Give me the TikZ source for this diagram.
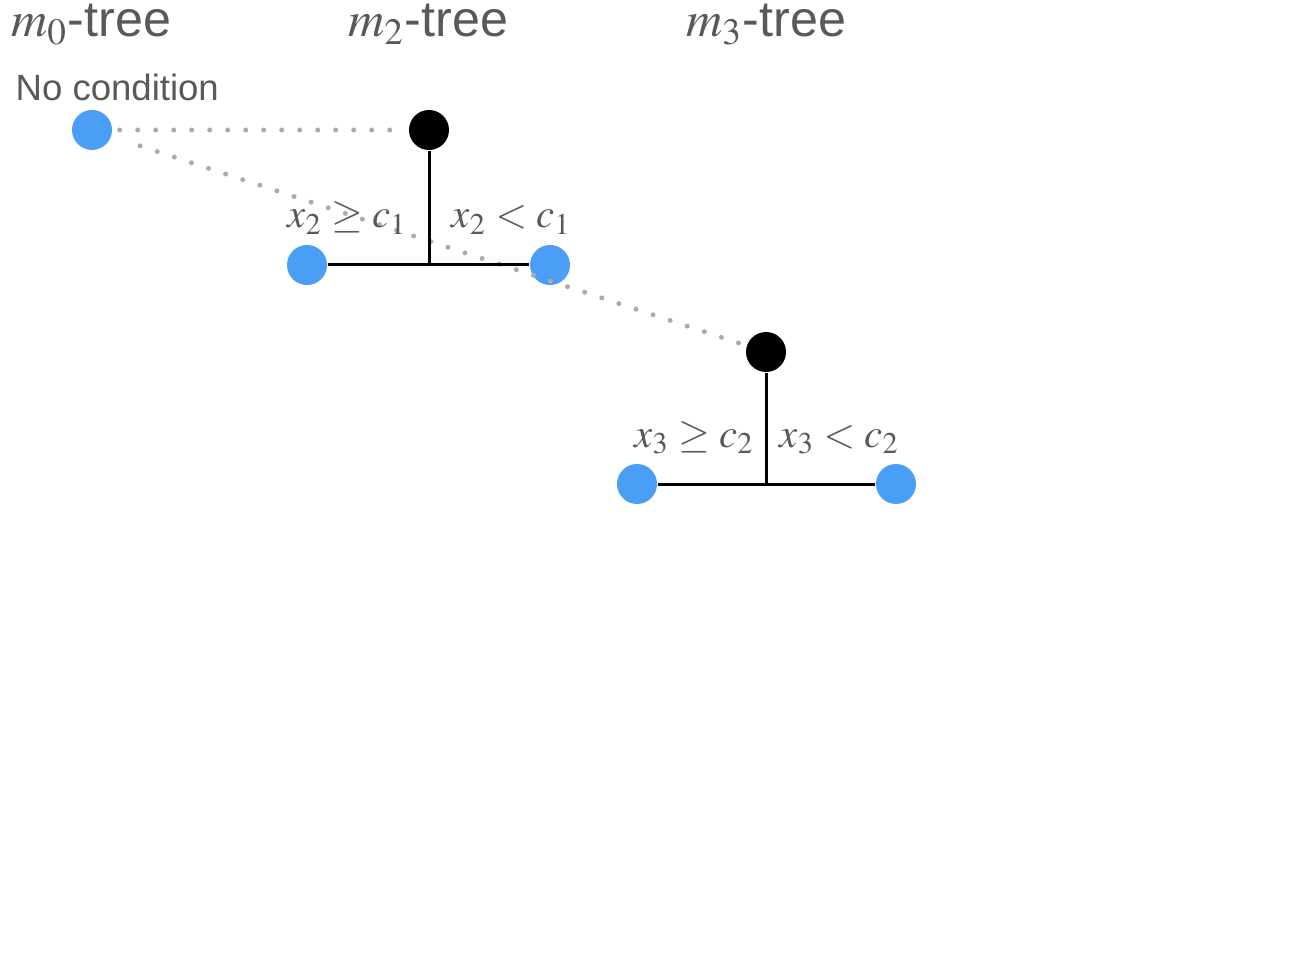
\documentclass[tikz,border=0pt]{standalone}
\usepackage{mathptmx}
\usepackage[no-math]{fontspec}
\setmainfont{Liberation Sans}
\usepackage{amsmath}
\usepackage{xcolor}
\usetikzlibrary{positioning}
\definecolor{leafblue}{HTML}{4A9EF5}
\definecolor{labelgray}{HTML}{595959}
\definecolor{dotgray}{HTML}{ABABAB}
\tikzset{
  leaf/.style={circle, fill=leafblue, minimum size=0.4cm, inner sep=0pt},
  split/.style={circle, fill=black, minimum size=0.4cm, inner sep=0pt},
  branch/.style={line width=0.03cm, black},
  link/.style={dotgray, line width=0.05cm, line cap=round, dash pattern=on 0pt off 0.18cm},
  treetitle/.style={text=labelgray, font=\fontsize{14.3}{16}\selectfont, inner sep=0pt},
  condition/.style={text=labelgray, font=\fontsize{11.6}{14}\selectfont, inner sep=0pt}
}

\begin{document}
\begin{tikzpicture}
            \useasboundingbox (0,0) rectangle (13,9.58);
            % titles
            \node[treetitle, anchor=base] (title0) at (0.91,9.21) {$m_0$-tree};
            \node[treetitle, anchor=base] (title2) at (4.28,9.21) {$m_2$-tree};
            \node[treetitle, anchor=base] (title3) at (7.66,9.21) {$m_3$-tree};
            \node[text=labelgray, font=\fontsize{10.4}{12}\selectfont, inner sep=0pt, anchor=base west] (nocond) at (0.15,8.57) {No condition};

            % m0-tree
            \node[leaf] (root0) at (0.92,8.28) {};

            % m2-tree
            \node[split] (root2) at (4.29,8.28) {};
            \coordinate (join2) at (4.29,6.93);
            \node[leaf] (left2) at (3.07,6.93) {};
            \node[leaf] (right2) at (5.50,6.93) {};

            % m3-tree
            \node[split] (root3) at (7.66,6.06) {};
            \coordinate (join3) at (7.66,4.74);
            \node[leaf] (left3) at (6.37,4.74) {};
            \node[leaf] (right3) at (8.96,4.74) {};

            % dotted links between trees
            \draw[link, shorten <=0.07cm, shorten >=0.15cm] (root0) -- (root2);
            \draw[link, shorten <=0.3cm, shorten >=0.04cm] (root0) -- (root3);

            \draw[branch] (root2) -- (join2);
            \draw[branch] (left2) -- (right2);
            \draw[branch] (root3) -- (join3);
            \draw[branch] (left3) -- (right3);

            \node[condition, anchor=base east] (cond2l) at (4.08,7.30) {$x_2 \geq c_1$};
            \node[condition, anchor=base west] (cond2r) at (4.51,7.30) {$x_2 < c_1$};
            \node[condition, anchor=base east] (cond3l) at (7.55,5.11) {$x_3 \geq c_2$};
            \node[condition, anchor=base west] (cond3r) at (7.79,5.11) {$x_3 < c_2$};
        \end{tikzpicture}
\end{document}
